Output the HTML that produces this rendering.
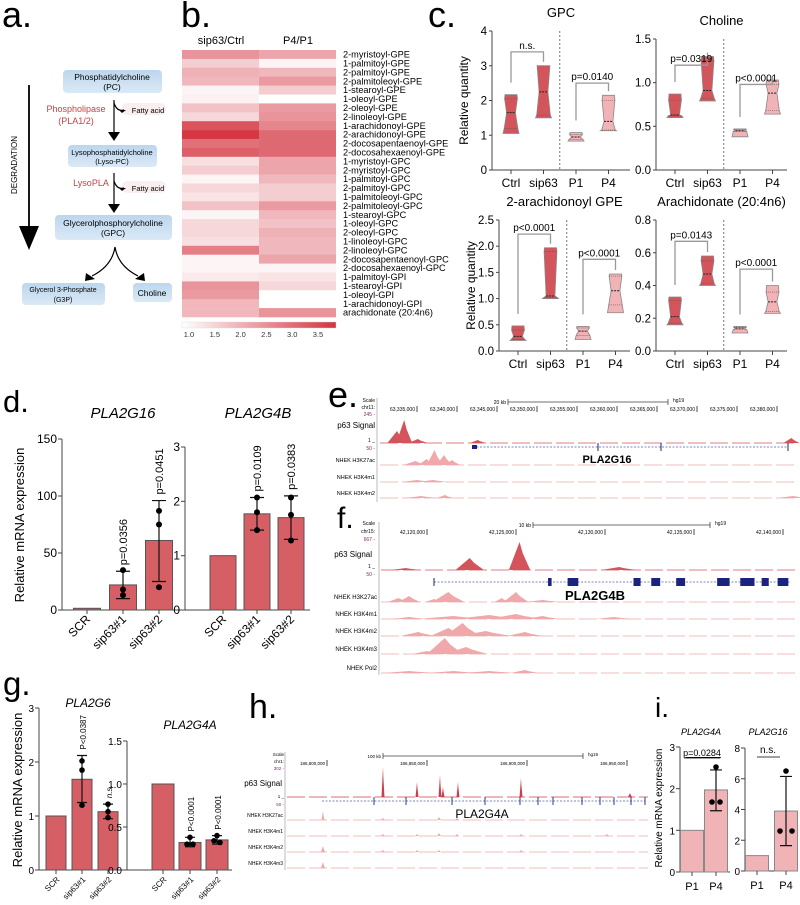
<!DOCTYPE html>
<html><head><meta charset="utf-8"><style>
html,body{margin:0;padding:0;background:#fff}
svg{display:block;font-family:"Liberation Sans",sans-serif}
</style></head><body>
<svg id="fig" width="800" height="905" viewBox="0 0 800 905" xmlns="http://www.w3.org/2000/svg">
<defs>
<linearGradient id="boxg" x1="0" y1="0" x2="0" y2="1"><stop offset="0" stop-color="#bcd6ee"/><stop offset="1" stop-color="#dbe9f6"/></linearGradient>
<linearGradient id="cbar" x1="0" y1="0" x2="1" y2="0"><stop offset="0" stop-color="#ffffff"/><stop offset="1" stop-color="#d4343f"/></linearGradient>
</defs>
<!-- panel labels -->
<g font-size="36" fill="#000">
<text x="2" y="27">a.</text>
<text x="181" y="27">b.</text>
<text x="428" y="27">c.</text>
<text x="3" y="412" font-size="31">d.</text>
<text x="328" y="407">e.</text>
<text x="337" y="528" font-size="30">f.</text>
<text x="3" y="695" font-size="33">g.</text>
<text x="249" y="718" font-size="34">h.</text>
<text x="655" y="717" font-size="28">i.</text>
</g>
<!-- panel a -->
<g font-size="8.5" text-anchor="middle">
<rect x="63" y="70" width="99" height="23" rx="4" fill="url(#boxg)"/>
<text x="112" y="80">Phosphatidylcholine</text><text x="112" y="90">(PC)</text>
<rect x="68" y="145" width="89" height="22" rx="4" fill="url(#boxg)"/>
<text x="112" y="155" font-size="7.5">Lysophosphatidylcholine</text><text x="112" y="164" font-size="7.5">(Lyso-PC)</text>
<rect x="55" y="215" width="117" height="25" rx="4" fill="url(#boxg)"/>
<text x="113" y="226" font-size="8.5">Glycerolphosphorylcholine</text><text x="113" y="236">(GPC)</text>
<rect x="22" y="283" width="83" height="22" rx="4" fill="url(#boxg)"/>
<text x="63" y="292" font-size="7">Glycerol 3-Phosphate</text><text x="63" y="302" font-size="7">(G3P)</text>
<rect x="133" y="283" width="39" height="19" rx="4" fill="url(#boxg)"/>
<text x="152" y="296" font-size="8.5">Choline</text>
<text x="76" y="112" fill="#c8403f" font-size="9">Phospholipase</text><text x="76" y="124" fill="#c8403f" font-size="9">(PLA1/2)</text>
<text x="91" y="186" fill="#c8403f" font-size="9">LysoPLA</text>
<rect x="122" y="103" width="44" height="12" rx="5" fill="#fbeeee"/><text x="148" y="113" font-size="7.5">Fatty acid</text>
<rect x="122" y="181" width="44" height="12" rx="5" fill="#fbeeee"/><text x="148" y="191" font-size="7.5">Fatty acid</text>
<g stroke="#000" stroke-width="1.2" fill="none">
<line x1="114" y1="100" x2="114" y2="132"/><line x1="114" y1="173" x2="114" y2="204"/>
<path d="M114 103 Q117 112 124 110"/><path d="M114 181 Q117 190 124 188"/>
<path d="M115 247 Q112 266 92 276"/><path d="M115 247 Q118 266 138 276"/>
<line x1="29" y1="85" x2="29" y2="228" stroke-width="1.8"/>
</g>
<g fill="#000"><path d="M108 132 L120 132 L114 141 Z"/><path d="M108 204 L120 204 L114 213 Z"/>
<path d="M119 110 L126 110 L122 113 Z"/><path d="M119 188 L126 188 L122 191 Z"/>
<path d="M86 273 L95 279 L85 281 Z"/><path d="M135 279 L144 273 L145 281 Z"/>
<path d="M19 226 L39 226 L29 250 Z"/></g>
<text x="17" y="165" font-size="8" transform="rotate(-90 17 165)">DEGRADATION</text>
</g>
<!-- panel b headers -->
<text x="221" y="44" font-size="11" text-anchor="middle">sip63/Ctrl</text>
<text x="298" y="44" font-size="11" text-anchor="middle">P4/P1</text>
<g id="heatmap"></g>
<!-- panel c -->
<g id="violins"></g>
<!-- panel d, g, i -->
<g id="bars"></g>
<!-- genome tracks -->
<g id="tracks"></g>
</svg>
<script>
const NS='http://www.w3.org/2000/svg';
function mk(tag,attrs,parent){const e=document.createElementNS(NS,tag);for(const k in attrs)e.setAttribute(k,attrs[k]);parent.appendChild(e);return e;}
function tx(parent,x,y,s,attrs){const e=mk('text',Object.assign({x:x,y:y},attrs||{}),parent);e.textContent=s;return e;}

/* ---------- heatmap data ---------- */
const hmLipids=['2-myristoyl-GPE','1-palmitoyl-GPE','2-palmitoyl-GPE','2-palmitoleoyl-GPE','1-stearoyl-GPE','1-oleoyl-GPE','2-oleoyl-GPE','2-linoleoyl-GPE','1-arachidonoyl-GPE','2-arachidonoyl-GPE','2-docosapentaenoyl-GPE','2-docosahexaenoyl-GPE','1-myristoyl-GPC','2-myristoyl-GPC','1-palmitoyl-GPC','2-palmitoyl-GPC','1-palmitoleoyl-GPC','2-palmitoleoyl-GPC','1-stearoyl-GPC','1-oleoyl-GPC','2-oleoyl-GPC','1-linoleoyl-GPC','2-linoleoyl-GPC','2-docosapentaenoyl-GPC','2-docosahexaenoyl-GPC','1-palmitoyl-GPI','1-stearoyl-GPI','1-oleoyl-GPI','1-arachidonoyl-GPI','arachidonate (20:4n6)'];
const hmSip63=[2.5,1.7,2.1,2.0,1.15,1.2,1.85,1.55,3.4,3.8,3.0,3.25,1.45,1.7,1.15,1.55,1.4,1.85,1.15,1.55,1.55,1.45,2.8,1.15,1.15,1.3,2.5,2.4,2.0,2.0];
const hmP4=[2.25,1.15,2.0,2.4,1.7,null,2.4,2.5,2.7,3.1,3.1,3.1,2.25,2.25,2.0,1.7,1.7,2.4,2.0,1.85,2.1,2.0,2.0,2.25,1.15,1.4,1.55,null,null,2.5];
const hmTicks=[1.0,1.5,2.0,2.5,3.0,3.5];
(function(){
 const g=document.getElementById('heatmap');
 const top=50,rowH=8.9,cx=[182,259],cw=77;
 function col(v){if(v==null)return '#ffffff';let t=(v-1)/2.85;t=Math.max(0,Math.min(1,t));
  const r=Math.round(255+(212-255)*t),gg=Math.round(255+(52-255)*t),b=Math.round(255+(63-255)*t);return `rgb(${r},${gg},${b})`;}
 hmLipids.forEach((name,i)=>{
  const y=top+i*rowH;
  const c1=mk('rect',{x:cx[0],y:y,width:cw,height:rowH+0.3,fill:col(hmSip63[i])},g);
  
  
  const c2=mk('rect',{x:cx[1],y:y,width:cw,height:rowH+0.3,fill:col(hmP4[i])},g);
  
  
  const l=tx(g,343,y+7.6,name,{'font-size':9.2});
  
  
 });
 const cb=mk('rect',{x:182,y:322,width:154,height:6,fill:'url(#cbar)',stroke:'#ddd','stroke-width':0.4},g);
 
 
 const cbx=v=>189+(v-1)*51.6;
 hmTicks.forEach(v=>{
  const t=tx(g,cbx(v),337,v.toFixed(1),{'font-size':7.5,'text-anchor':'middle',fill:'#333'});
  
  
 });
})();

/* ---------- violin data ---------- */
const vCats=['Ctrl','sip63','P1','P4'];
const gpcMin=[1.05,1.5,0.83,1.13],gpcMax=[2.17,3.0,1.08,2.15],gpcMed=[1.65,2.25,0.95,1.4],gpcQ1=[1.2,1.58,0.88,1.15],gpcQ3=[2.05,3.0,1.02,2.0];
const chMin=[0.6,0.79,0.38,0.64],chMax=[0.87,1.3,0.47,1.03],chMed=[0.63,0.91,0.45,0.88],chQ1=[0.62,0.82,0.44,0.68],chQ3=[0.8,1.25,0.46,0.98];
const agMin=[0.2,1.0,0.22,0.73],agMax=[0.48,1.97,0.47,1.47],agMed=[0.28,1.05,0.38,1.15],agQ1=[0.22,1.02,0.3,0.88],agQ3=[0.4,1.9,0.44,1.43];
const arMin=[0.16,0.4,0.11,0.23],arMax=[0.33,0.58,0.15,0.4],arMed=[0.21,0.47,0.14,0.3],arQ1=[0.17,0.41,0.13,0.24],arQ3=[0.31,0.55,0.145,0.36];
const gpcTicks=[0,1,2,3,4],chTicks=[0,0.5,1.0,1.5],agTicks=[0,0.5,1.0,1.5,2.0,2.5],arTicks=[0,0.2,0.4,0.6,0.8];
const gpcP=['n.s.','p=0.0140'],chP=['p=0.0319','p<0.0001'],agP=['p<0.0001','p<0.0001'],arP=['p=0.0143','p<0.0001'];
const gpcBr=[3.4,2.5],chBr=[1.2,0.98],agBr=[2.23,1.75],arBr=[0.67,0.5];
(function(){
 const root=document.getElementById('violins');
 function panel(name,title,x0,x1,yb,yt,vmax,ticks,dec,mn,mx,md,q1,q3,pl,br,showYLabel){
  const g=mk('g',{},root);
  
  
  const y=v=>yb-(v/vmax)*(yb-yt);
  const xc=i=>x0+19+i*32.5;
  const t=tx(g,(x0+x1)/2,yt-14,title,{'font-size':13,'text-anchor':'middle'});
  
  
  mk('line',{x1:x0,y1:yt,x2:x0,y2:yb,stroke:'#444','stroke-width':1},g);
  mk('line',{x1:x0,y1:yb,x2:x1,y2:yb,stroke:'#444','stroke-width':1},g);
  ticks.forEach(v=>{
   mk('line',{x1:x0-3,y1:y(v),x2:x0,y2:y(v),stroke:'#444'},g);
   const l=tx(g,x0-5,y(v)+4,v.toFixed(dec),{'font-size':11.5,'text-anchor':'end'});
   
   
  });
  const dv=mk('line',{x1:(xc(1)+xc(2))/2,y1:yt,x2:(xc(1)+xc(2))/2,y2:yb,stroke:'#777','stroke-dasharray':'2,2'},g);
  
  
  if(showYLabel){const yl=tx(g,x0-24,(yb+yt)/2,'Relative quantity',{'font-size':12,'text-anchor':'middle',transform:`rotate(-90 ${x0-24} ${(yb+yt)/2})`});
   
   }
  vCats.forEach((c,i)=>{
   const cx=xc(i),w=8,fill=i<2?'#d4545c':'#f2b3b6';
   mk('line',{x1:cx,y1:yb,x2:cx,y2:yb+4,stroke:'#444'},g);
   const cl=tx(g,cx,yb+17,c,{'font-size':12,'text-anchor':'middle'});
   
   
   const prof=[[mn[i],w],[q1[i],w*0.85],[md[i],w*0.55],[q3[i],w*0.8],[mx[i],w*0.75]];
   let d='';prof.forEach((p,k)=>{d+=(k?'L':'M')+(cx-p[1])+' '+y(p[0]);});
   for(let k=prof.length-1;k>=0;k--)d+='L'+(cx+prof[k][1])+' '+y(prof[k][0]);
   const vp=mk('path',{d:d+'Z',fill:fill,stroke:'#888','stroke-width':0.8},g);
   
   
   mk('line',{x1:cx-w*0.55,y1:y(md[i]),x2:cx+w*0.55,y2:y(md[i]),stroke:'#222','stroke-dasharray':'2,1'},g);
   mk('line',{x1:cx-w*0.8,y1:y(q1[i]),x2:cx+w*0.8,y2:y(q1[i]),stroke:'#555','stroke-dasharray':'1,1','stroke-width':0.6},g);
   mk('line',{x1:cx-w*0.8,y1:y(q3[i]),x2:cx+w*0.8,y2:y(q3[i]),stroke:'#555','stroke-dasharray':'1,1','stroke-width':0.6},g);
  });
  [0,1].forEach(b=>{
   const a=b*2,c=a+1,top=y(br[b]);
   const bp=mk('path',{d:`M${xc(a)} ${y(mx[a])-12} L${xc(a)} ${top} L${xc(c)} ${top} L${xc(c)} ${y(mx[c])-4}`,fill:'none',stroke:'#999','stroke-width':1.3},g);
   
   
   const pt=tx(g,(xc(a)+xc(c))/2,top-3,pl[b],{'font-size':10,'text-anchor':'middle','font-style':pl[b]=='n.s.'?'normal':'normal'});
   
   
  });
 }
 panel('violin-gpc','GPC',492,630,170,31,4,gpcTicks,0,gpcMin,gpcMax,gpcMed,gpcQ1,gpcQ3,gpcP,gpcBr,true);
 panel('violin-choline','Choline',656,787,170,39,1.5,chTicks,1,chMin,chMax,chMed,chQ1,chQ3,chP,chBr,false);
 panel('violin-2-arachidonoyl-gpe','2-arachidonoyl GPE',499,630,351,220,2.5,agTicks,1,agMin,agMax,agMed,agQ1,agQ3,agP,agBr,true);
 panel('violin-arachidonate','Arachidonate (20:4n6)',656,787,351,220,0.8,arTicks,1,arMin,arMax,arMed,arQ1,arQ3,arP,arBr,false);
})();

/* ---------- bar chart data ---------- */
const dCats=['SCR','sip63#1','sip63#2'];
const g16Mean=[1.5,22,61],g16Lo=[1.5,10,25],g16Hi=[1.5,34,96],g16Pts=[[],[35,18,13],[87,75,20]],g16P=['','p=0.0356','p=0.0451'],g16Ticks=[0,50,100,150];
const g4bMean=[1,1.77,1.7],g4bLo=[1,1.47,1.3],g4bHi=[1,2.07,2.1],g4bPts=[[],[2.07,1.8,1.47],[2.07,1.75,1.28]],g4bP=['','p=0.0109','p=0.0383'],g4bTicks=[0,1,2,3];
const g6Mean=[1,1.68,1.08],g6Lo=[1,1.25,0.95],g6Hi=[1,2.12,1.22],g6Pts=[[],[2.02,1.85,1.2],[1.22,1.08,0.97]],g6P=['','P<0.0387','n.s.'],g6Ticks=[0,1,2,3];
const g4aMean=[1,0.32,0.35],g4aLo=[1,0.27,0.3],g4aHi=[1,0.38,0.4],g4aPts=[[],[0.38,0.3,0.3],[0.4,0.34,0.32]],g4aP=['','P<0.0001','P<0.0001'],g4aTicks=[0,0.5,1.0,1.5];
const iCats=['P1','P4'];
const i4aMean=[1,1.97],i4aLo=[1,1.47],i4aHi=[1,2.45],i4aPts=[[],[2.52,1.68,1.68]],i4aTicks=[0,1,2,3];
const i16Mean=[1,3.9],i16Lo=[1,1.65],i16Hi=[1,6.15],i16Pts=[[],[6.5,2.6,2.6]],i16Ticks=[0,2,4,6,8];
(function(){
 const root=document.getElementById('bars');
 function chart(o){
  const g=mk('g',{},root);
  
  
  const y=v=>o.yb-(v/o.vmax)*(o.yb-o.yt);
  const xc=i=>o.x0+o.first+i*o.step;
  const t=tx(g,o.tx,o.ty,o.title,{'font-size':o.tfs,'text-anchor':'middle','font-style':'italic','font-weight':o.tbold?'bold':'normal'});
  
  
  mk('line',{x1:o.x0,y1:o.yt,x2:o.x0,y2:o.yb,stroke:'#444','stroke-width':1},g);
  mk('line',{x1:o.x0,y1:o.yb,x2:o.x1,y2:o.yb,stroke:'#444','stroke-width':1},g);
  o.ticks.forEach(v=>{
   mk('line',{x1:o.x0-4,y1:y(v),x2:o.x0,y2:y(v),stroke:'#444'},g);
   const l=tx(g,o.x0-5,y(v)+4,o.dec?v.toFixed(o.dec):String(v),{'font-size':o.fs,'text-anchor':'end'});
   
   
  });
  if(o.ylabel){const yl=tx(g,o.ylx,o.yly,'Relative mRNA expression',{'font-size':o.ylfs,'text-anchor':'middle',transform:`rotate(-90 ${o.ylx} ${o.yly})`});
   
   }
  o.cats.forEach((c,i)=>{
   const cx=xc(i);
   const bar=mk('rect',{x:cx-o.bw/2,y:y(o.mean[i]),width:o.bw,height:o.yb-y(o.mean[i]),fill:o.fill,stroke:o.stroke,'stroke-width':1},g);
   
   
   mk('line',{x1:cx,y1:o.yb,x2:cx,y2:o.yb+4,stroke:'#444'},g);
   const lab=o.rot?tx(g,cx+4,o.yb+10,c,{'font-size':o.xfs,'text-anchor':'end',transform:`rotate(-45 ${cx+4} ${o.yb+10})`}):tx(g,cx,o.yb+18,c,{'font-size':o.xfs,'text-anchor':'middle'});
   
   
   if(o.hi[i]!==o.lo[i]){
    const eb=mk('path',{d:`M${cx} ${y(o.lo[i])} L${cx} ${y(o.hi[i])} M${cx-o.cap} ${y(o.lo[i])} L${cx+o.cap} ${y(o.lo[i])} M${cx-o.cap} ${y(o.hi[i])} L${cx+o.cap} ${y(o.hi[i])}`,stroke:'#111','stroke-width':1.2,fill:'none'},g);
    
    
   }
   (o.pts[i]||[]).forEach((v,k)=>{
    const off=o.jit?(k==0?0:(k==1?-o.jit:o.jit)):0;
    const p=mk('circle',{cx:cx+off,cy:y(v),r:o.r,fill:'#000'},g);
    
    
   });
   if(o.p&&o.p[i]){
    const top=Math.min(y(o.hi[i]),y(o.mean[i]))-6, px=cx+4;
    const pl=tx(g,px,top,o.p[i],{'font-size':o.pfs,'font-style':o.p[i]=='n.s.'?'italic':'normal',transform:`rotate(-90 ${px} ${top})`});
    
    
   }
  });
  return {g:g,y:y,xc:xc};
 }
 chart({name:'bar-pla2g16',title:'PLA2G16',tx:123,ty:418,tfs:15,tbold:false,x0:62,x1:183,yb:610,yt:439,vmax:150,ticks:g16Ticks,fs:12,ylabel:true,ylx:24,yly:525,ylfs:13,cats:dCats,first:25,step:36,bw:27,mean:g16Mean,lo:g16Lo,hi:g16Hi,pts:g16Pts,p:g16P,pfs:11,fill:'#d65e65',stroke:'#555',cap:7,r:3,rot:true,xfs:12});
 chart({name:'bar-pla2g4b',title:'PLA2G4B',tx:258,ty:418,tfs:15,x0:185,x1:310,yb:610,yt:447,vmax:3,ticks:g4bTicks,fs:12,cats:dCats,first:38,step:34,bw:26,mean:g4bMean,lo:g4bLo,hi:g4bHi,pts:g4bPts,p:g4bP,pfs:11,fill:'#d65e65',stroke:'#555',cap:7,r:3,rot:true,xfs:12});
 chart({name:'bar-pla2g6',title:'PLA2G6',tx:88,ty:707,tfs:12,x0:39,x1:125,yb:870,yt:708,vmax:3,ticks:g6Ticks,fs:10,ylabel:true,ylx:22,yly:790,ylfs:13,cats:dCats,first:17,step:26,bw:20,mean:g6Mean,lo:g6Lo,hi:g6Hi,pts:g6Pts,p:g6P,pfs:8,fill:'#d65e65',stroke:'#555',cap:5,r:2.8,rot:true,xfs:8});
 chart({name:'bar-pla2g4a',title:'PLA2G4A',tx:190,ty:729,tfs:12,x0:127,x1:232,yb:870,yt:741,vmax:1.5,ticks:g4aTicks,dec:1,fs:10,cats:dCats,first:36,step:27,bw:22,mean:g4aMean,lo:g4aLo,hi:g4aHi,pts:g4aPts,p:g4aP,pfs:8,fill:'#d65e65',stroke:'#555',cap:5,r:2.8,rot:true,xfs:8,jit:3});
 const a=chart({name:'bar-i-pla2g4a',title:'PLA2G4A',tx:701,ty:735,tfs:9,x0:680,x1:730,yb:872,yt:747,vmax:3,ticks:i4aTicks,fs:10,ylabel:true,ylx:662,yly:808,ylfs:10,cats:iCats,first:12,step:24,bw:23,mean:i4aMean,lo:i4aLo,hi:i4aHi,pts:i4aPts,fill:'#f0b4b7',stroke:'#888',cap:6,r:2.8,rot:false,xfs:11,jit:4});
 const b=chart({name:'bar-i-pla2g16',title:'PLA2G16',tx:768,ty:735,tfs:9,x0:745,x1:798,yb:871,yt:748,vmax:8,ticks:i16Ticks,fs:10,cats:iCats,first:12,step:29,bw:23,mean:i16Mean,lo:i16Lo,hi:i16Hi,pts:i16Pts,fill:'#f0b4b7',stroke:'#888',cap:6,r:2.8,rot:false,xfs:11,jit:6});
 const s1=tx(a.g,702,756,'p=0.0284',{'font-size':9,'text-anchor':'middle','text-decoration':'underline'});
 
 
 mk('line',{x1:684,y1:758,x2:720,y2:758,stroke:'#000','stroke-width':0.8},a.g);
 const s2=tx(b.g,768,753,'n.s.',{'font-size':10,'text-anchor':'middle'});
 
 
 mk('line',{x1:757,y1:757,x2:780,y2:757,stroke:'#000','stroke-width':0.8},b.g);
})();

/* ---------- genome track data ---------- */
const eCoords=[63335,63340,63345,63350,63355,63360,63365,63370,63375,63380];
const eP63=[[63332.5,12,1.2],[63333.4,23,1.0],[63335.1,4,1.2],[63342.6,3,1],[63381.8,5,1]];
const eK27=[[63334.8,4,1.5],[63336.2,6,1],[63337.2,15,1],[63338.4,10,1],[63339.4,5,1]];
const eK4m1=[[63335,2,2],[63337,2,2]];
const eK4m2=[[63335.5,2,2],[63338.5,3,1],[63382,2,2]];
const fCoords=[42120,42125,42130,42135,42140];
const fP63=[[42118.8,2,0.8],[42122.4,12,0.8],[42125.2,28,0.6],[42130.8,3,1]];
const fK27=[[42118.4,4,0.6],[42119.0,6,0.6],[42120.4,3,0.5],[42121.2,10,0.9],[42124.2,4,0.4],[42125.0,10,0.7],[42126.5,2,1]];
const fK4m1=[[42119,2,1],[42121.5,3,2],[42123.5,4,2],[42125,5,1.5],[42126.5,3,1],[42130.5,2,1]];
const fK4m2=[[42119.5,4,1],[42121.2,8,1],[42122.0,13,1],[42123.3,5,1.5],[42125.5,4,1]];
const fK4m3=[[42120.0,3,0.8],[42121.0,16,1.0],[42122.2,7,1.2]];
const fPol2=[[42119,2,1.5],[42121.5,2,1.5],[42123.5,2,1.5],[42125.5,3,0.8]];
const fExons=[42126.8,42127.0,42127.9,42128.5,42131.6,42132.0,42132.6,42133.1,42134.0,42134.5,42136.3,42137.0,42137.6,42138.4,42138.8,42139.2,42139.7,42140.3];
const hCoords=[186800,186850,186900,186950];
const hP63=[[186828,30,0.6],[186845,15,0.6],[186856.5,22,0.6],[186858,10,0.6],[186865.5,15,0.6],[186897,19,0.6],[186951.5,4,1]];
const hK27=[[186798,9,0.7],[186828,2,1],[186856,3,1],[186865,2,1]];
const hK4m1=[[186828,2,1],[186845,2,1],[186856,3,1],[186865,2,1],[186897,2,1],[186940,2,1]];
const hK4m2=[[186798,6,1],[186828,2,1],[186845,2,1],[186856,2,1],[186897,2,1]];
const hK4m3=[[186798,6,1]];
(function(){
 const root=document.getElementById('tracks');
 function region(name,xmap,x0,x1){const g=mk('g',{},root);return g;}
 function track(g,label,lx,lfs,base,peaks,xmap,x0,x1,col){
  const l=tx(g,lx,base-3,label,{'font-size':lfs,'text-anchor':'end'});
  
  
  mk('line',{x1:x0,y1:base,x2:x1,y2:base,stroke:col,'stroke-width':0.8,'stroke-dasharray':'18,4'},g);
  peaks.forEach(p=>{
   const cx=xmap(p[0]),hw=Math.max(1.5,(xmap(p[0]+p[2])-xmap(p[0])));
   const pk=mk('path',{d:`M${cx-hw} ${base} L${cx-hw*0.3} ${base-p[1]*0.7} L${cx} ${base-p[1]} L${cx+hw*0.3} ${base-p[1]*0.6} L${cx+hw} ${base} Z`,fill:col},g);
   
   
  });
 }
 function header(g,xmap,coords,sy,scaleX1,scaleX2,kb,hg,fmt){
  tx(g,375,sy,'Scale',{'font-size':5,'text-anchor':'end'});
  tx(g,scaleX1-2,sy+2,kb,{'font-size':5,'text-anchor':'end'});
  mk('path',{d:`M${scaleX1} ${sy-3} L${scaleX1} ${sy+3} M${scaleX1} ${sy} L${scaleX2} ${sy} M${scaleX2} ${sy-3} L${scaleX2} ${sy+3}`,stroke:'#444','stroke-width':0.8},g);
  tx(g,scaleX2+5,sy,'hg19',{'font-size':5});
  coords.forEach(c=>{const x=xmap(c);
   mk('line',{x1:x,y1:sy+4,x2:x,y2:sy+10,stroke:'#000','stroke-width':0.7},g);
   const t=tx(g,x-2,sy+9,fmt(c),{'font-size':5,'text-anchor':'end'});
   
   });
 }
 const fmt=c=>String(c).replace(/\B(?=(\d{3})+(?!\d))/g,',')+',000';
 /* e */
 const ex=v=>417+(v-63335)*8;
 const ge=region('track-region-pla2g16');
 mk('line',{x1:377,y1:398,x2:377,y2:502,stroke:'#bbb'},ge);
 header(ge,ex,eCoords,402,508,668,'20 kb','hg19',fmt);
 tx(ge,375,409,'chr11:',{'font-size':5,'text-anchor':'end'});tx(ge,375,416,'245 -',{'font-size':5,'text-anchor':'end',fill:'#7a2a6a'});
 tx(ge,375,428,'p63 Signal',{'font-size':8,'text-anchor':'end'});
 tx(ge,375,442,'1 _',{'font-size':5,'text-anchor':'end'});tx(ge,375,450,'50 -',{'font-size':5,'text-anchor':'end',fill:'#7a2a6a'});
 track(ge,'',375,6,443,eP63,ex,380,797,'#d4545c');
 mk('line',{x1:473,y1:447,x2:788,y2:447,stroke:'#5560a8','stroke-width':0.8,'stroke-dasharray':'2,1.5'},ge);
 mk('rect',{x:472,y:445,width:5,height:4,fill:'#1a237e'},ge);
 [598,661,788].forEach(x=>mk('line',{x1:x,y1:443,x2:x,y2:451,stroke:'#1a237e','stroke-width':1},ge));
 const gl=tx(ge,607,463,'PLA2G16',{'font-size':11,'font-weight':'bold','text-anchor':'middle'});
 
 
 track(ge,'NHEK H3K27ac',375,5.5,465,eK27,ex,380,797,'#f0a8aa');
 track(ge,'NHEK H3K4m1',375,5.5,482,eK4m1,ex,380,797,'#f0a8aa');
 track(ge,'NHEK H3K4m2',375,5.5,498,eK4m2,ex,380,797,'#f0a8aa');
 /* f */
 const fx=v=>427+(v-42120)*17.8;
 const gf=region('track-region-pla2g4b');
 mk('line',{x1:379,y1:522,x2:379,y2:675,stroke:'#bbb'},gf);
 header(gf,fx,fCoords,525,533,710,'10 kb','hg19',fmt);
 tx(gf,375,533,'chr15:',{'font-size':5,'text-anchor':'end'});tx(gf,375,541,'667 -',{'font-size':5,'text-anchor':'end',fill:'#7a2a6a'});
 tx(gf,372,557,'p63 Signal',{'font-size':8,'text-anchor':'end'});
 tx(gf,375,568,'1 _',{'font-size':5,'text-anchor':'end'});tx(gf,375,576,'50 -',{'font-size':5,'text-anchor':'end',fill:'#7a2a6a'});
 track(gf,'',375,6,570,fP63,fx,381,797,'#d4545c');
 mk('line',{x1:434,y1:582,x2:790,y2:582,stroke:'#5560a8','stroke-width':0.8,'stroke-dasharray':'2,1.5'},gf);
 for(let k=0;k<fExons.length;k+=2){const e=mk('rect',{x:fx(fExons[k]),y:578,width:Math.max(2,fx(fExons[k+1])-fx(fExons[k])),height:8,fill:'#1a237e'},gf);
  
  }
 mk('line',{x1:434,y1:578,x2:434,y2:586,stroke:'#1a237e'},gf);
 const gl2=tx(gf,595,600,'PLA2G4B',{'font-size':13,'font-weight':'bold','text-anchor':'middle'});
 
 
 track(gf,'NHEK H3K27ac',377,6,602,fK27,fx,381,797,'#f0a8aa');
 track(gf,'NHEK H3K4m1',377,6,619,fK4m1,fx,381,797,'#f0a8aa');
 track(gf,'NHEK H3K4m2',377,6,636,fK4m2,fx,381,797,'#f0a8aa');
 track(gf,'NHEK H3K4m3',377,6,654,fK4m3,fx,381,797,'#f0a8aa');
 track(gf,'NHEK Pol2',377,6,673,fPol2,fx,381,797,'#f0a8aa');
 /* h */
 const hx=v=>327+(v-186800)*2;
 const gh=region('track-region-pla2g4a');
 mk('line',{x1:285,y1:752,x2:285,y2:870,stroke:'#bbb'},gh);
 (function(){const sy=756;
  tx(gh,284,sy,'Scale',{'font-size':4.5,'text-anchor':'end'});tx(gh,381,sy+2,'100 kb',{'font-size':4.5,'text-anchor':'end'});
  mk('path',{d:`M383 ${sy-3} L383 ${sy+3} M383 ${sy} L583 ${sy} M583 ${sy-3} L583 ${sy+3}`,stroke:'#444','stroke-width':0.8},gh);
  tx(gh,588,sy,'hg19',{'font-size':4.5});
  hCoords.forEach(c=>{const x=hx(c);mk('line',{x1:x,y1:sy+4,x2:x,y2:sy+10,stroke:'#000','stroke-width':0.7},gh);
   const t=tx(gh,x-2,sy+9,fmt(c),{'font-size':4.5,'text-anchor':'end'});
   
   });
  tx(gh,284,sy+7,'chr1:',{'font-size':4.5,'text-anchor':'end'});tx(gh,284,sy+14,'302 -',{'font-size':4.5,'text-anchor':'end',fill:'#7a2a6a'});
 })();
 tx(gh,282,786,'p63 Signal',{'font-size':8,'text-anchor':'end'});
 tx(gh,284,798,'1 _',{'font-size':4.5,'text-anchor':'end'});tx(gh,284,806,'50 -',{'font-size':4.5,'text-anchor':'end',fill:'#7a2a6a'});
 track(gh,'',283,5,797,hP63,hx,287,648,'#c9404a');
 mk('line',{x1:322,y1:801,x2:645,y2:801,stroke:'#5560a8','stroke-width':0.8,'stroke-dasharray':'2,1.5'},gh);
 [374,406,452,485,520,538,553,582,600,614,631,645].forEach(x=>mk('line',{x1:x,y1:797,x2:x,y2:805,stroke:'#1a237e','stroke-width':0.9},gh));
 const gl3=tx(gh,482,818,'PLA2G4A',{'font-size':12,'text-anchor':'middle'});
 
 
 track(gh,'NHEK H3K27ac',283,5,820,hK27,hx,287,648,'#f0a8aa');
 track(gh,'NHEK H3K4m1',283,5,836,hK4m1,hx,287,648,'#f0a8aa');
 track(gh,'NHEK H3K4m2',283,5,852,hK4m2,hx,287,648,'#f0a8aa');
 track(gh,'NHEK H3K4m3',283,5,868,hK4m3,hx,287,648,'#f0a8aa');
})();
</script>
</body></html>
